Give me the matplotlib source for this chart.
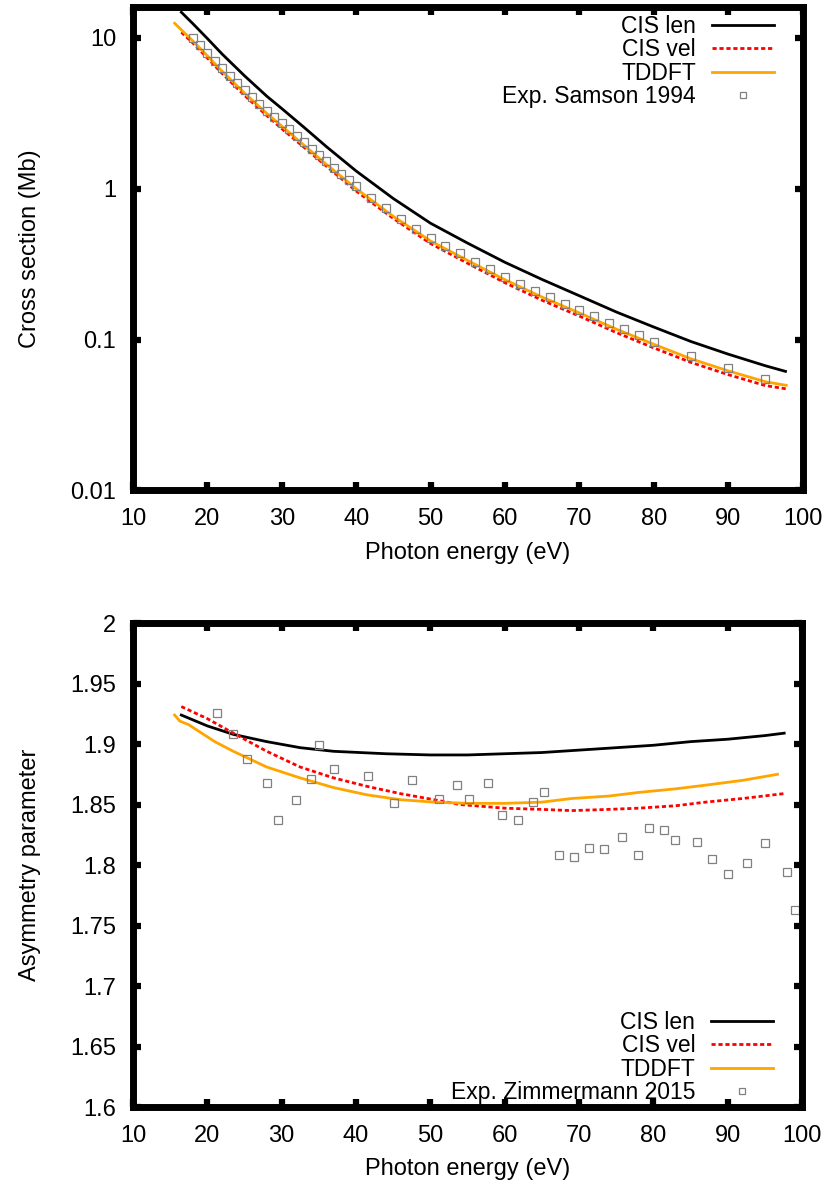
import matplotlib
matplotlib.use('Agg')
import matplotlib.pyplot as plt
import matplotlib.ticker as ticker

plt.rcParams['font.family'] = ['Liberation Sans', 'DejaVu Sans']
plt.rcParams['font.size'] = 17

# ---- cross section (Mb) ----
xs_len_e = [16.5, 18, 20, 22, 25, 28, 30, 33, 36, 40, 45, 50, 55, 60, 65, 70, 75, 80, 85, 90, 95, 97.7]
xs_len = [14.8, 12.5, 9.9, 7.8, 5.6, 4.1, 3.4, 2.55, 1.9, 1.31, 0.86, 0.59, 0.435, 0.325, 0.25, 0.195,
          0.152, 0.121, 0.097, 0.080, 0.067, 0.0615]

xs_vel_e = [16.5, 18, 20, 22, 25, 28, 30, 33, 36, 40, 45, 50, 55, 60, 65, 70, 75, 80, 85, 90, 95, 97.9]
xs_vel = [10.9, 9.3, 7.35, 5.8, 4.15, 3.05, 2.5, 1.88, 1.41, 0.965, 0.635, 0.433, 0.32, 0.238, 0.182,
          0.143, 0.111, 0.088, 0.0705, 0.0585, 0.0495, 0.047]

xs_tddft_e = [15.6, 17, 18, 20, 22, 25, 28, 30, 33, 36, 40, 45, 50, 55, 60, 65, 70, 75, 80, 85, 90, 95, 97.8]
xs_tddft = [12.5, 10.7, 9.6, 7.6, 6.0, 4.3, 3.15, 2.6, 1.94, 1.45, 1.0, 0.655, 0.45, 0.334, 0.249, 0.191,
            0.150, 0.117, 0.093, 0.0745, 0.062, 0.0525, 0.0497]

samson_e = [18, 19, 20, 21, 22, 23, 24, 25, 26, 27, 28, 29, 30, 31, 32, 33, 34, 35, 36, 37, 38, 39, 40,
            42, 44, 46, 48, 50, 52, 54, 56, 58, 60, 62, 64, 66, 68, 70, 72, 74, 76, 78, 80, 85, 90, 95]
samson = [10.0, 8.95, 7.95, 7.05, 6.3, 5.6, 5.0, 4.5, 4.05, 3.65, 3.3, 3.0, 2.72, 2.47, 2.24, 2.03,
          1.84, 1.67, 1.52, 1.38, 1.26, 1.15, 1.05, 0.87, 0.74, 0.63, 0.54, 0.471, 0.415, 0.373,
          0.328, 0.294, 0.261, 0.234, 0.211, 0.190, 0.172, 0.157, 0.143, 0.129, 0.117, 0.107,
          0.097, 0.078, 0.065, 0.055]

# ---- asymmetry parameter ----
beta_len_e = [16.5, 20, 23.5, 28, 32.5, 37, 44, 50, 55, 60, 65, 70, 75, 80, 85, 90, 95, 97.6]
beta_len = [1.924, 1.915, 1.908, 1.902, 1.897, 1.894, 1.892, 1.891, 1.891, 1.892, 1.893, 1.895,
            1.897, 1.899, 1.902, 1.904, 1.907, 1.909]

beta_vel_e = [16.5, 20, 23.5, 28, 32.5, 37, 41.5, 46, 50.5, 54, 60, 65, 69, 74, 78, 83, 87, 92, 97.5]
beta_vel = [1.931, 1.921, 1.909, 1.894, 1.881, 1.872, 1.865, 1.859, 1.854, 1.850, 1.847, 1.846,
            1.845, 1.846, 1.847, 1.849, 1.852, 1.855, 1.859]

beta_tddft_e = [15.6, 16.3, 17.5, 19, 21, 23.5, 28, 32.5, 37, 41.5, 46, 50.5, 55, 60, 65, 69, 74,
                78, 83, 87, 92, 96.7]
beta_tddft = [1.924, 1.919, 1.916, 1.910, 1.902, 1.894, 1.881, 1.872, 1.864, 1.858, 1.854, 1.852,
              1.851, 1.851, 1.852, 1.855, 1.857, 1.860, 1.863, 1.866, 1.870, 1.875]

zimm_e = [21.3, 23.4, 25.4, 28.0, 29.5, 31.9, 34.0, 35.0, 37.1, 41.6, 45.1, 47.6, 51.1, 53.6, 55.2,
          57.8, 59.7, 61.8, 63.8, 65.3, 67.3, 69.3, 71.3, 73.3, 75.8, 77.9, 79.4, 81.4, 82.9, 85.9,
          87.9, 90.0, 92.6, 95.0, 98.0, 99.0]
zimm = [1.926, 1.908, 1.888, 1.868, 1.837, 1.854, 1.871, 1.899, 1.879, 1.874, 1.851, 1.870, 1.855,
        1.866, 1.855, 1.868, 1.841, 1.837, 1.852, 1.860, 1.808, 1.807, 1.814, 1.813, 1.823, 1.808,
        1.831, 1.829, 1.821, 1.819, 1.805, 1.793, 1.802, 1.818, 1.794, 1.763]


def style(ax):
    for s in ax.spines.values():
        s.set_linewidth(5)
    ax.tick_params(which='major', direction='in', length=5.5, width=4.5,
                   top=True, right=True, labelsize=17)
    ax.tick_params(axis='x', pad=13)
    ax.tick_params(axis='y', pad=12)
    ax.tick_params(which='minor', length=0)
    ax.set_xlim(10, 100)
    ax.xaxis.set_major_locator(ticker.MultipleLocator(10))
    ax.set_xlabel('Photon energy (eV)', labelpad=8)


def draw(ax, e1, y1, e2, y2, e3, y3, ex, yx, exp_label):
    ax.plot(e1, y1, color='black', lw=2, label='CIS len')
    ax.plot(e2, y2, color='#ff0000', lw=2, dashes=(1.5, 1.0), label='CIS vel')
    ax.plot(e3, y3, color='#ffa500', lw=2, label='TDDFT')
    ax.plot(ex, yx, ls='none', marker='s', ms=5.5, mfc='none', mec='#808080', mew=0.9,
            label=exp_label)


fig = plt.figure(figsize=(8.27, 11.85), dpi=100)

ax1 = fig.add_axes([0.1608, 0.5862, 0.8097, 0.4078])
draw(ax1, xs_len_e, xs_len, xs_vel_e, xs_vel, xs_tddft_e, xs_tddft, samson_e, samson,
     'Exp. Samson 1994')
ax1.set_yscale('log')
ax1.set_ylim(0.01, 16)
ax1.yaxis.set_major_locator(ticker.FixedLocator([0.01, 0.1, 1, 10]))
ax1.yaxis.set_major_formatter(ticker.FuncFormatter(lambda v, p: '%g' % v))
ax1.yaxis.set_minor_locator(ticker.NullLocator())
style(ax1)
ax1.set_ylabel('Cross section (Mb)', labelpad=21)
ax1.legend(loc='upper right', bbox_to_anchor=(0.957, 0.984), frameon=False, markerfirst=False,
           handlelength=2.7, handletextpad=0.7, labelspacing=0.02, borderaxespad=0,
           borderpad=0, fontsize=16.5, markerscale=0.8)

ax2 = fig.add_axes([0.1608, 0.0658, 0.809, 0.4084])
draw(ax2, beta_len_e, beta_len, beta_vel_e, beta_vel, beta_tddft_e, beta_tddft, zimm_e, zimm,
     'Exp. Zimmermann 2015')
ax2.set_ylim(1.6, 2.0)
ax2.yaxis.set_major_locator(ticker.MultipleLocator(0.05))
ax2.yaxis.set_major_formatter(ticker.FuncFormatter(lambda v, p: '%g' % round(v, 2)))
style(ax2)
ax2.set_ylabel('Asymmetry parameter', labelpad=21)
ax2.legend(loc='lower right', bbox_to_anchor=(0.957, 0.006), frameon=False, markerfirst=False,
           handlelength=2.7, handletextpad=0.7, labelspacing=0.02, borderaxespad=0,
           borderpad=0, fontsize=16.5, markerscale=0.8)

plt.savefig('out.png', dpi=100)
